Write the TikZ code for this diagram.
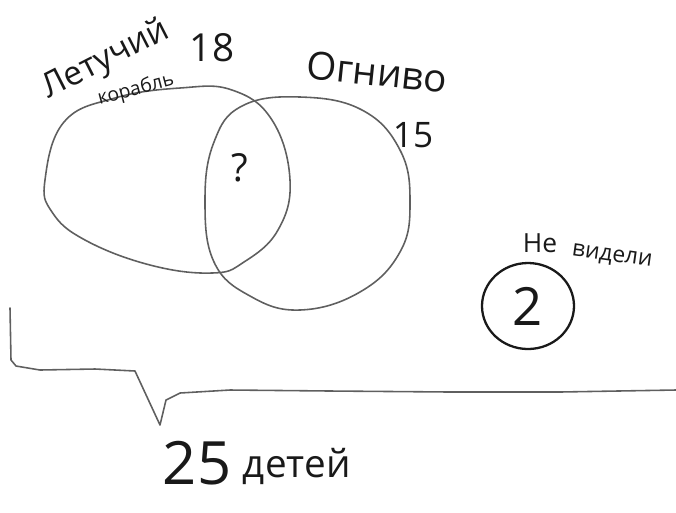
\documentclass[tikz,border=0pt]{standalone}
\usepackage{fontspec}
\setmainfont{Open Sans}
\usetikzlibrary{positioning}
\definecolor{pencil}{RGB}{95,95,95}
\definecolor{ink}{RGB}{25,25,25}
\tikzset{
  setline/.style={draw=pencil, line width=0.9pt, line join=round, line cap=round},
  inkline/.style={draw=ink, line width=1.3pt, line join=round, line cap=round},
  hand/.style={text=ink, inner sep=1pt, font=\fontsize{22}{24}\selectfont},
  smallhand/.style={text=ink, inner sep=1pt, font=\fontsize{15}{17}\selectfont}
}
\begin{document}
\begin{tikzpicture}[x=0.02cm, y=-0.02cm]
  \useasboundingbox (0,0) rectangle (676,512);
  % the two sets
  \draw[setline] plot[smooth cycle, tension=0.7] coordinates {(45,180) (64,122) (115,98) (180,88) (232,90) (272,120) (290,180) (278,230) (244,262) (212,273) (150,265) (85,240) (52,212)};
  \draw[setline] plot[smooth cycle, tension=0.7] coordinates {(205,200) (214,142) (242,106) (300,97) (362,110) (400,150) (410,202) (400,252) (360,292) (300,310) (250,296) (214,262)};
  % children who saw neither
  \draw[inkline] (528,306) ellipse[x radius=46, y radius=43];
  % brace under everything
  \coordinate (bl) at (10,308);
  \coordinate (bt) at (160,425);
  \coordinate (br) at (676,390);
  \draw[setline] (bl) -- (11,360) -- (16,366) -- (40,370) -- (95,369) -- (135,371) -- (bt) -- (166,400) -- (180,393) -- (230,390) -- (330,391) -- (450,392) -- (560,392) -- (br);
  % labels
  \node[hand, rotate=27, font=\fontsize{19}{21}\selectfont] (flyship) at (106,60) {Летучий};
  \node[smallhand, rotate=15, font=\fontsize{11}{13}\selectfont] (ship) at (136,90) {корабль};
  \node[hand] (n18) at (212,48) {18};
  \node[hand, rotate=-6] (tinder) at (377,72) {Огниво};
  \node[hand, font=\fontsize{20}{22}\selectfont] (n15) at (413,135) {15};
  \node[hand] (both) at (240,168) {?};
  \node[smallhand] (not) at (540,243) {Не};
  \node[smallhand, rotate=-8, font=\fontsize{13}{15}\selectfont] (seen) at (612,257) {видели};
  \node[font=\fontsize{30}{32}\selectfont, text=ink] (n2) at (528,306) {2};
  \node[font=\fontsize{34}{36}\selectfont, text=ink] (n25) at (197,463) {25};
  \node[hand, right=2pt of n25, yshift=-2pt] (kids) {детей};
\end{tikzpicture}
\end{document}
